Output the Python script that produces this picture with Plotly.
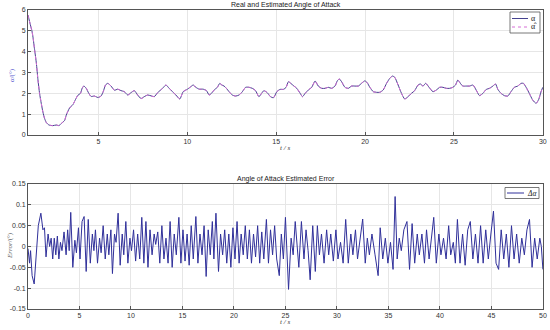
import plotly.graph_objects as go

# ---------------- data ----------------
T_ALPHA = [1.04, 1.17, 1.26, 1.32, 1.41, 1.51, 1.60, 1.69, 1.79, 1.88, 1.97, 2.07, 2.22, 2.44, 2.63,
           2.78, 2.91, 3.10, 3.19, 3.38, 3.56, 3.71, 3.84, 3.99, 4.09, 4.18, 4.31, 4.46, 4.59, 4.78,
           4.97, 5.15, 5.28, 5.40, 5.53, 5.71, 5.90, 6.09, 6.27, 6.46, 6.65, 6.83, 7.02, 7.21, 7.40,
           7.58, 7.77, 7.96, 8.14, 8.33, 8.61, 8.80, 8.98, 9.17, 9.36, 9.58, 9.77, 10.01, 10.20, 10.33,
           10.48, 10.67, 10.89, 11.08, 11.23, 11.36, 11.51, 11.69, 11.83, 11.94, 12.07, 12.20, 12.35,
           12.53, 12.72, 12.91, 13.10, 13.28, 13.47, 13.66, 13.84, 14.03, 14.18, 14.31, 14.50, 14.68,
           14.85, 15.04, 15.22, 15.41, 15.56, 15.69, 15.82, 16.00, 16.16, 16.35, 16.48, 16.63, 16.81,
           17.00, 17.19, 17.37, 17.56, 17.75, 17.93, 18.12, 18.31, 18.44, 18.55, 18.68, 18.87, 19.06,
           19.24, 19.43, 19.62, 19.80, 19.99, 20.12, 20.27, 20.46, 20.64, 20.83, 21.02, 21.21, 21.39,
           21.54, 21.67, 21.86, 22.05, 22.23, 22.42, 22.61, 22.79, 22.98, 23.11, 23.26, 23.41, 23.60,
           23.82, 24.01, 24.20, 24.38, 24.57, 24.76, 24.94, 25.09, 25.22, 25.36, 25.50, 25.69, 25.88,
           26.07, 26.25, 26.44, 26.63, 26.82, 27.00, 27.19, 27.34, 27.47, 27.65, 27.84, 28.03, 28.21,
           28.40, 28.59, 28.78, 28.91, 29.06, 29.24, 29.43, 29.62, 29.77, 29.90, 30.00]
ALPHA = [5.76, 5.30, 5.00, 4.70, 4.10, 3.45, 2.65, 2.00, 1.50, 1.10, 0.80, 0.60, 0.48, 0.45, 0.48,
         0.45, 0.55, 0.70, 0.95, 1.30, 1.45, 1.70, 1.90, 2.00, 2.25, 2.35, 2.25, 2.00, 1.85, 1.87,
         1.80, 1.87, 2.10, 2.40, 2.48, 2.35, 2.15, 2.20, 2.13, 2.08, 1.92, 2.03, 2.13, 1.92, 1.75,
         1.84, 1.92, 1.88, 1.84, 2.03, 2.24, 2.40, 2.24, 2.08, 1.92, 1.73, 2.08, 2.20, 2.32, 2.40,
         2.29, 2.20, 2.20, 2.13, 1.92, 2.00, 2.16, 2.29, 2.48, 2.40, 2.35, 2.24, 2.08,
         1.92, 1.87, 1.92, 2.08, 2.29, 2.29, 2.24, 2.13, 1.84, 2.00, 2.13, 2.03, 1.84,
         1.79, 2.08, 2.19, 2.19, 2.29, 2.56, 2.48, 2.35, 2.24, 2.00, 1.84, 2.00, 2.16,
         2.29, 2.59, 2.35, 2.24, 2.24, 2.29, 2.24, 2.35, 2.60, 2.69, 2.56, 2.29, 2.24,
         2.35, 2.35, 2.35, 2.48, 2.60, 2.51, 2.29, 2.08, 2.05, 2.05, 2.16, 2.48, 2.72,
         2.83, 2.77, 2.40, 2.00, 1.73, 1.84, 2.00, 2.13, 2.40, 2.45, 2.35, 2.48, 2.29,
         2.08, 2.16, 2.29, 2.29, 2.24, 2.24, 2.29, 2.40, 2.64, 2.48, 2.35, 2.35, 2.35,
         2.40, 2.16, 1.89, 2.00, 2.19, 2.24, 2.35, 2.45, 2.19, 2.00, 1.89, 1.87, 2.08,
         2.29, 2.35, 2.48, 2.48, 2.29, 2.00, 1.68, 1.52, 1.71, 2.08, 2.29]
ALPHA_HAT = list(ALPHA)

T_ERR = [0.00, 0.15, 0.25, 0.40, 0.60, 0.80, 1.00, 1.25, 1.45, 1.60, 1.75, 1.95, 2.10, 2.25, 2.40,
         2.55, 2.70, 2.85, 3.00, 3.15, 3.30, 3.50, 3.70, 3.85, 4.00, 4.15, 4.35, 4.55, 4.70, 4.90,
         5.05, 5.25, 5.45, 5.65, 5.85, 6.05, 6.25, 6.40, 6.55, 6.75, 6.95, 7.10, 7.30, 7.50, 7.70,
         7.85, 8.05, 8.20, 8.40, 8.55, 8.75, 8.95, 9.15, 9.30, 9.50, 9.70, 9.90, 10.05, 10.25, 10.45,
         10.65, 10.85, 11.05, 11.25, 11.45, 11.65, 11.85, 12.05, 12.25, 12.40, 12.60, 12.80, 13.00,
         13.20, 13.40, 13.60, 13.80, 14.00, 14.20, 14.40, 14.65, 14.85, 15.05, 15.25, 15.45, 15.65,
         15.85, 16.05, 16.30, 16.50, 16.70, 16.90, 17.10, 17.30, 17.50, 17.70, 17.90, 18.05, 18.25,
         18.50, 18.70, 18.90, 19.10, 19.30, 19.50, 19.70, 19.90, 20.10, 20.30, 20.50, 20.70, 20.90,
         21.10, 21.30, 21.50, 21.70, 21.90, 22.10, 22.30, 22.50, 22.70, 22.90, 23.15, 23.35, 23.55,
         23.75, 23.95, 24.15, 24.40, 24.60, 24.80, 25.00, 25.30, 25.55, 25.75, 25.95, 26.15, 26.30,
         26.55, 26.80, 27.00, 27.20, 27.40, 27.65, 27.90, 28.10, 28.30, 28.50, 28.75, 29.00, 29.20,
         29.40, 29.65, 29.90, 30.10, 30.35, 30.60, 30.85, 31.10, 31.35, 31.55, 31.80, 32.00, 32.25,
         32.50, 32.75, 32.95, 33.15, 33.40, 33.70, 34.00, 34.20, 34.45, 34.70, 34.95, 35.20, 35.45,
         35.65, 35.85, 36.05, 36.25, 36.50, 36.80, 37.05, 37.30, 37.55, 37.80, 38.00, 38.25, 38.50,
         38.70, 38.95, 39.15, 39.40, 39.65, 39.90, 40.10, 40.35, 40.60, 40.85, 41.05, 41.30, 41.50,
         41.70, 41.95, 42.20, 42.45, 42.70, 42.95, 43.20, 43.45, 43.70, 43.95, 44.20, 44.45, 44.70,
         44.95, 45.20, 45.45, 45.70, 45.95, 46.20, 46.45, 46.70, 46.95, 47.20, 47.45, 47.70, 47.95,
         48.20, 48.45, 48.70, 48.95, 49.20, 49.45, 49.70, 49.85, 50.00]
ERR = [-0.005, -0.040, -0.010, -0.070, -0.090, -0.020, 0.050, 0.080, 0.040, 0.045, -0.025, 0.030,
       0.000, 0.020, -0.030, 0.020, -0.020, 0.025, -0.030, 0.010, -0.010, 0.035, -0.020, 0.040,
       -0.010, 0.082, -0.050, 0.015, -0.015, 0.045, -0.030, 0.060, 0.072, -0.060, 0.065, -0.040,
       0.030, -0.010, 0.040, -0.040, 0.020, -0.015, 0.050, -0.030, 0.030, -0.020, 0.040, -0.065,
       0.030, 0.010, 0.080, -0.045, 0.030, -0.020, 0.060, -0.040, 0.020, -0.010, 0.040, -0.035,
       0.030, -0.030, 0.070, -0.040, 0.060, -0.050, 0.040, -0.020, 0.030, 0.005, 0.035, -0.040,
       0.050, -0.030, 0.020, -0.040, 0.060, -0.050, 0.030, -0.020, 0.070, -0.040, 0.040, -0.035,
       0.030, -0.045, 0.050, -0.030, 0.072, -0.040, 0.030, -0.020, 0.050, -0.072, 0.040, -0.020,
       0.060, -0.030, 0.080, -0.060, 0.030, -0.020, 0.040, -0.040, 0.030, -0.050, 0.045, -0.030,
       0.060, -0.040, 0.030, -0.020, 0.050, -0.030, 0.040, -0.040, 0.030, -0.025, 0.050, -0.040,
       0.035, -0.030, 0.065, -0.040, 0.040, -0.020, 0.050, -0.030, -0.070, 0.030, -0.030, 0.070,
       -0.103, 0.020, -0.020, 0.060, -0.010, -0.050, 0.060, -0.030, 0.040, -0.010, -0.080, 0.050,
       -0.060, 0.050, -0.020, 0.030, -0.040, 0.040, -0.020, 0.030, -0.035, 0.040, -0.030, 0.010,
       -0.040, 0.065, -0.040, 0.030, -0.020, 0.040, -0.030, 0.020, 0.066, -0.040, 0.020, -0.020,
       0.030, -0.020, -0.070, 0.045, -0.030, 0.020, -0.040, 0.010, -0.055, 0.120, -0.030, 0.020,
       -0.010, 0.040, 0.060, -0.055, 0.055, -0.040, 0.030, -0.020, 0.030, -0.040, 0.040, -0.030,
       0.020, 0.070, -0.040, 0.030, -0.020, 0.020, -0.030, 0.050, -0.020, 0.010, -0.040, 0.065,
       -0.040, 0.030, -0.045, 0.040, 0.060, -0.030, 0.030, -0.040, 0.050, -0.040, 0.040, -0.030,
       0.030, 0.085, -0.040, -0.055, 0.040, -0.030, 0.030, -0.050, 0.050, -0.030, 0.030, -0.040,
       0.020, -0.020, 0.040, 0.065, -0.050, 0.020, -0.030, 0.020, 0.000, -0.055]

TOP_XTICKS = [5, 10, 15, 20, 25, 30]
TOP_YTICKS = [0, 1, 2, 3, 4, 5, 6]
BOT_XTICKS = [0, 5, 10, 15, 20, 25, 30, 35, 40, 45, 50]
BOT_YTICKS = [-0.15, -0.1, -0.05, 0, 0.05, 0.1, 0.15]
BOT_YLABELS = ["-0.15", "-0.1", "-0.05", "0", "0.05", "0.1", "0.15"]

# ---------------- figure ----------------
W, H = 550, 330
FONT = "Liberation Sans"
SERIF = "Liberation Serif"
C_REAL = "#45428f"
C_EST = "#d66fd6"
C_ERR = "#30309a"

fig = go.Figure()
fig.add_trace(go.Scatter(x=T_ALPHA, y=ALPHA, mode="lines", name="α",
                         line=dict(color=C_REAL, width=1, shape="spline", smoothing=0.6),
                         xaxis="x", yaxis="y"))
fig.add_trace(go.Scatter(x=T_ALPHA, y=ALPHA_HAT, mode="lines", name="α̂",
                         line=dict(color=C_EST, width=1, dash="dot", shape="spline", smoothing=0.6),
                         xaxis="x", yaxis="y"))
fig.add_trace(go.Scatter(x=T_ERR, y=ERR, mode="lines", name="Δα",
                         line=dict(color=C_ERR, width=1),
                         xaxis="x2", yaxis="y2"))

xd = [28 / W, 543 / W]
top_dom = [1 - 135 / H, 1 - 10 / H]
bot_dom = [1 - 309 / H, 1 - 184 / H]

axis_common = dict(showline=True, mirror=True, linecolor="#555555", linewidth=0.8,
                   showgrid=True, gridcolor="#e6e6e6", gridwidth=0.8, zeroline=False,
                   ticks="inside", ticklen=3, tickcolor="#555555", automargin=False,
                   tickfont=dict(family=FONT, size=7, color="#333333"))

fig.update_layout(
    width=W, height=H, margin=dict(l=0, r=0, t=0, b=0, autoexpand=False),
    paper_bgcolor="white", plot_bgcolor="white", showlegend=False,
    xaxis=dict(domain=xd, anchor="y", range=[1.04, 30.01], tickvals=TOP_XTICKS,
               ticktext=[str(v) for v in TOP_XTICKS], **axis_common),
    yaxis=dict(domain=top_dom, anchor="x", range=[0, 6.001], tickvals=TOP_YTICKS,
               ticktext=[str(v) for v in TOP_YTICKS], **axis_common),
    xaxis2=dict(domain=xd, anchor="y2", range=[0, 50.01], tickvals=BOT_XTICKS,
                ticktext=[str(v) for v in BOT_XTICKS], **axis_common),
    yaxis2=dict(domain=bot_dom, anchor="x2", range=[-0.1501, 0.1501], tickvals=BOT_YTICKS,
                ticktext=BOT_YLABELS, **axis_common),
)

def px(x):
    return x / W

def py(y):
    return 1 - y / H

# custom compact legends (MATLAB style)
shapes = [
    dict(type="rect", x0=px(510), x1=px(540), y0=py(12), y1=py(33),
         line=dict(color="#555555", width=0.8), fillcolor="white"),
    dict(type="line", x0=px(512), x1=px(528), y0=py(18.5), y1=py(18.5),
         line=dict(color=C_REAL, width=1)),
    dict(type="line", x0=px(512), x1=px(528), y0=py(27), y1=py(27),
         line=dict(color=C_EST, width=1, dash="dot")),
    dict(type="rect", x0=px(505), x1=px(539), y0=py(187.5), y1=py(198.5),
         line=dict(color="#555555", width=0.8), fillcolor="white"),
    dict(type="line", x0=px(507), x1=px(524), y0=py(193), y1=py(193),
         line=dict(color=C_ERR, width=1)),
]
for s in shapes:
    fig.add_shape(xref="paper", yref="paper", layer="above", **s)

anns = [
    dict(text="Real and Estimated Angle of Attack", x=px(285.5), y=py(5),
         font=dict(family=FONT, size=7, color="#222222")),
    dict(text="Angle of Attack Estimated Error", x=px(285.5), y=py(179),
         font=dict(family=FONT, size=7, color="#222222")),
    dict(text="<i>t / s</i>", x=px(285), y=py(147.5),
         font=dict(family=SERIF, size=7, color="#333333")),
    dict(text="<i>t / s</i>", x=px(285), y=py(322),
         font=dict(family=SERIF, size=7, color="#333333")),
    dict(text="α/(°)", x=px(12), y=py(75), textangle=-90,
         font=dict(family=SERIF, size=7, color="#5b5bd0")),
    dict(text="<i>Error</i>/(°)", x=px(10), y=py(246), textangle=-90,
         font=dict(family=SERIF, size=7, color="#666666")),
    dict(text="α", x=px(533.5), y=py(18), font=dict(family=SERIF, size=8, color="#222222")),
    dict(text="α̂", x=px(533.5), y=py(26.5), font=dict(family=SERIF, size=8, color="#222222")),
    dict(text="<i>Δα</i>", x=px(531.5), y=py(193), font=dict(family=SERIF, size=7.5, color="#222222")),
]
for a in anns:
    fig.add_annotation(xref="paper", yref="paper", showarrow=False,
                       xanchor="center", yanchor="middle", **a)

fig.write_html("out.html", config={"displayModeBar": False},
               post_script="document.body.style.margin='0';document.body.style.overflow='hidden';")
